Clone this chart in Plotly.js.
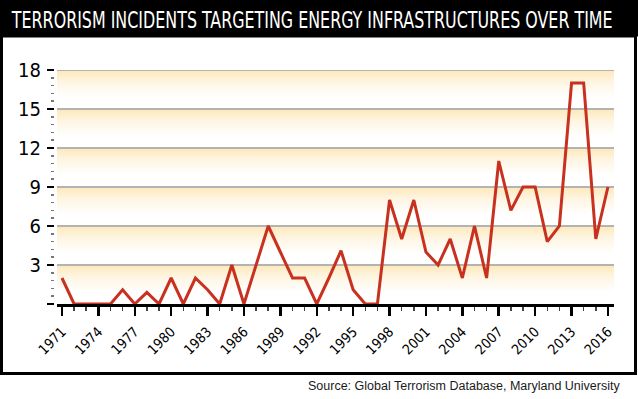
<!DOCTYPE html>
<html>
<head>
<meta charset="utf-8">
<script src="https://cdn.plot.ly/plotly-3.0.1.min.js"></script>
<style>
  html, body { margin: 0; padding: 0; background: #ffffff; }
  #chart { width: 638px; height: 399px; }
</style>
</head>
<body>
<div id="chart"></div>
<script>
// ---- data ----
const years = [1971, 1972, 1973, 1974, 1975, 1976, 1977, 1978, 1979, 1980,
               1981, 1982, 1983, 1984, 1985, 1986, 1987, 1988, 1989, 1990,
               1991, 1992, 1993, 1994, 1995, 1996, 1997, 1998, 1999, 2000,
               2001, 2002, 2003, 2004, 2005, 2006, 2007, 2008, 2009, 2010,
               2011, 2012, 2013, 2014, 2015, 2016];
const incidents = [2, 0, 0, 0, 0, 1.1, 0, 0.9, 0, 2,
                   0, 2, 1.1, 0, 3, 0, 3, 6, 4, 2,
                   2, 0, 2, 4.1, 1.1, 0, 0, 8, 5, 8,
                   4, 3, 5, 2, 6, 2, 11, 7.2, 9, 9,
                   4.8, 6, 17, 17, 5, 9];
const xTickYears = [1971, 1974, 1977, 1980, 1983, 1986, 1989, 1992, 1995, 1998,
                    2001, 2004, 2007, 2010, 2013, 2016];
const xTickText = ['1971', '1974', '1977', '1980', '1983', '1986', '1989', '1992',
                   '1995', '1998', '2001', '2004', '2007', '2010', '2013', '2016'];
const yTickVals = [0, 3, 6, 9, 12, 15, 18];
const yTickText = ['', '3', '6', '9', '12', '15', '18'];
const titleText = 'TERRORISM INCIDENTS TARGETING ENERGY INFRASTRUCTURES OVER TIME';
const sourceText = 'Source: Global Terrorism Database, Maryland University';

// ---- geometry helpers (figure pixels -> paper) ----
const W = 638, H = 399;
const M = { l: 54, r: 24, t: 70, b: 95 };
const PW = W - M.l - M.r, PH = H - M.t - M.b;
const px2x = p => (p - M.l) / PW;
const py2y = p => (H - M.b - p) / PH;

const xRange = [1970.59, 2016.5];
const yRange = [0, 18];

const condensed = '"Liberation Sans Narrow", "DejaVu Sans Condensed", "Arial Narrow", "Liberation Sans", sans-serif';

const traces = [];
// gradient bands between grid lines
for (let i = 1; i < yTickVals.length; i++) {
  const lo = yTickVals[i - 1], hi = yTickVals[i];
  traces.push({
    type: 'scatter', mode: 'none',
    x: [xRange[0], xRange[1], xRange[1], xRange[0]],
    y: [lo, lo, hi, hi],
    fill: 'toself',
    fillgradient: {
      type: 'vertical', start: lo, stop: hi,
      colorscale: [[0, '#ffffff'], [0.3, '#ffffff'], [0.7, '#fef5e2'], [1, '#fde8b8']]
    },
    hoverinfo: 'skip', showlegend: false
  });
}
// grid lines
const gx = [], gy = [];
yTickVals.filter(v => v > 0).forEach(v => { gx.push(xRange[0], xRange[1], null); gy.push(v, v, null); });
traces.push({
  type: 'scatter', mode: 'lines', x: gx, y: gy,
  line: { color: '#b3b3b3', width: 2 },
  hoverinfo: 'skip', showlegend: false
});
// data line
traces.push({
  type: 'scatter', mode: 'lines',
  x: years, y: incidents,
  line: { color: '#c8311f', width: 3 },
  showlegend: false
});

const layout = {
  width: W, height: H,
  margin: M,
  paper_bgcolor: '#ffffff',
  plot_bgcolor: 'rgba(0,0,0,0)',
  showlegend: false,
  xaxis: {
    domain: [3 / PW, 1],
    range: xRange,
    tickmode: 'array', tickvals: xTickYears, ticktext: xTickText,
    tickangle: -45,
    ticks: 'outside', ticklen: 9, tickwidth: 2.5, tickcolor: '#000000',
    minor: { dtick: 1, tick0: 1971, ticks: 'outside', ticklen: 4, tickwidth: 1.5, tickcolor: '#444444', showgrid: false },
    tickfont: { family: condensed, size: 14, color: '#000000' },
    ticklabelstandoff: 2,
    showline: true, linecolor: '#000000', linewidth: 3,
    showgrid: false, zeroline: false, fixedrange: true
  },
  yaxis: {
    anchor: 'free', position: 0,
    range: yRange,
    tickmode: 'array', tickvals: yTickVals, ticktext: yTickText,
    ticks: 'outside', ticklen: 7, tickwidth: 2.5, tickcolor: '#000000',
    minor: { dtick: 0.6, tick0: 0, ticks: 'outside', ticklen: 3.5, tickwidth: 1.5, tickcolor: '#777777', showgrid: false },
    tickfont: { family: condensed, size: 20, color: '#000000' },
    ticklabelstandoff: 2,
    showline: false, showgrid: false, zeroline: false, fixedrange: true
  },
  shapes: [
    // title band
    { type: 'rect', xref: 'paper', yref: 'paper', layer: 'below',
      x0: px2x(0), x1: px2x(W), y0: py2y(0), y1: py2y(36.5),
      fillcolor: '#000000', line: { width: 0 } },
    // frame
    { type: 'rect', xref: 'paper', yref: 'paper', layer: 'below',
      x0: px2x(1.5), x1: px2x(635.5), y0: py2y(36), y1: py2y(373.5),
      fillcolor: 'rgba(0,0,0,0)', line: { color: '#000000', width: 3 } }
  ],
  annotations: [
    { text: titleText, xref: 'paper', yref: 'paper',
      x: px2x(311), y: py2y(19), xanchor: 'center', yanchor: 'middle',
      showarrow: false,
      font: { family: condensed, size: 18, color: '#ffffff' } },
    { text: sourceText, xref: 'paper', yref: 'paper',
      x: px2x(622), y: py2y(386), xanchor: 'right', yanchor: 'middle',
      showarrow: false,
      font: { family: '"Liberation Sans", Arial, sans-serif', size: 12.5, color: '#1a1a1a' } }
  ]
};

Plotly.newPlot('chart', traces, layout, { displayModeBar: false, staticPlot: true }).then(gd => {
  const t = gd.querySelector('.annotation-text');
  if (t) {
    const bb = t.getBBox();
    if (bb.width > 0) {
      const cx = bb.x + bb.width / 2, cy = bb.y + bb.height / 2;
      const sx = 602 / bb.width, sy = 1.25;
      t.setAttribute('transform',
        'translate(' + cx + ',' + cy + ') scale(' + sx + ',' + sy + ') translate(' + (-cx) + ',' + (-cy) + ')');
    }
  }
});
</script>
</body>
</html>
